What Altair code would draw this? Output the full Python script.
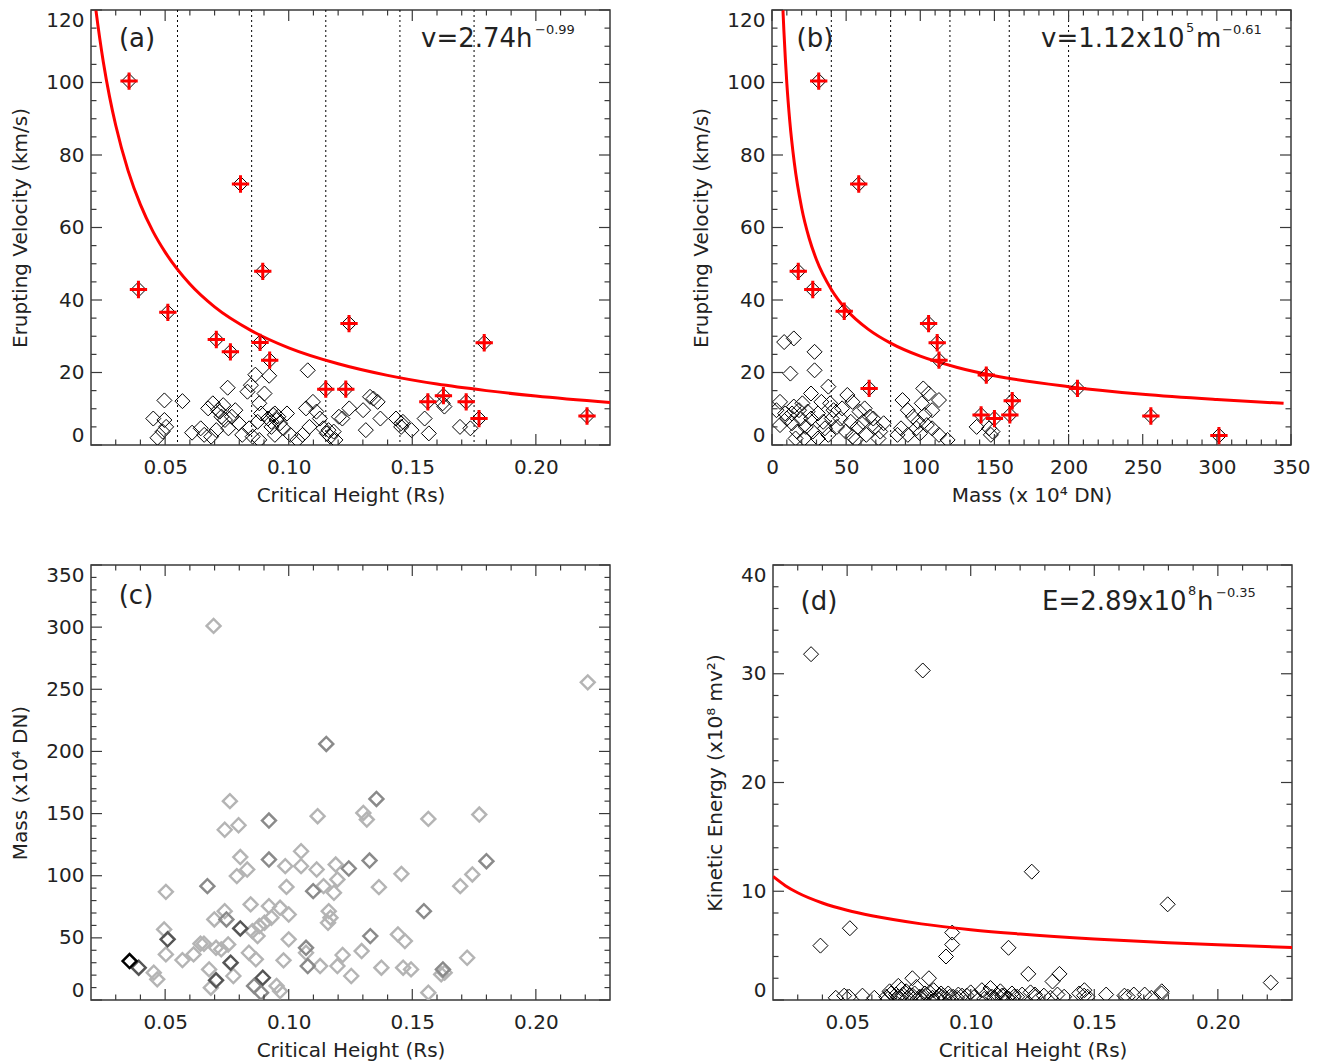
import altair as alt
import pandas as pd

FONT = "DejaVu Sans"
FRAME = "#3a3a3a"
TXT = "#222222"
RED = "#ff0000"
W, H = 519, 435

# ---------------- panel (a): critical height vs erupting velocity
A_H = [0.0452, 0.0497, 0.0570, 0.0497, 0.0504, 0.0469, 0.049, 0.0609, 0.0644, 0.0674,
       0.0693, 0.0658, 0.0686, 0.0707, 0.0721, 0.0735, 0.0753, 0.0742, 0.077, 0.0784,
       0.0798, 0.0756, 0.0812, 0.0833, 0.0847, 0.0865, 0.0921, 0.0881, 0.0902, 0.0888,
       0.0874, 0.084, 0.0854, 0.0881, 0.0916, 0.0937, 0.0951, 0.0965, 0.093, 0.0979,
       0.0993, 0.0944, 0.1007, 0.1035, 0.1056, 0.1077, 0.107, 0.1098, 0.1112, 0.1126,
       0.1084, 0.114, 0.1154, 0.1168, 0.1189, 0.1182, 0.1203, 0.1217, 0.1245, 0.1301,
       0.1329, 0.1343, 0.136, 0.1371, 0.1312, 0.1434, 0.1462, 0.1455, 0.1497, 0.155,
       0.1567, 0.1623, 0.1693, 0.1735, 0.0714, 0.0728, 0.093, 0.0958, 0.0944, 0.1161,
       0.1455, 0.163]
A_V = [7.3, 12.3, 12.1, 6.9, 5.0, 2.0, 3.7, 3.4, 4.6, 10.1,
       11.5, 2.8, 2.3, 4.1, 9.2, 11.0, 15.8, 6.9, 7.8, 9.6,
       6.0, 4.6, 2.8, 14.7, 16.5, 19.4, 19.1, 11.5, 14.2, 8.7,
       6.4, 4.6, 2.3, 1.4, 7.3, 8.3, 6.9, 6.0, 5.0, 4.6,
       8.7, 2.8, 2.8, 1.4, 2.8, 20.6, 10.1, 11.9, 9.2, 7.3,
       5.0, 4.6, 3.2, 2.3, 1.4, 3.7, 7.8, 7.3, 10.1, 9.6,
       13.3, 12.8, 11.9, 7.3, 4.1, 7.3, 6.4, 5.0, 4.1, 7.3,
       3.2, 11.5, 5.0, 4.6, 9.6, 7.8, 6.4, 7.8, 8.7, 4.1,
       6.0, 10.6]
A_RED_H = [0.0354, 0.0392, 0.0511, 0.0805, 0.0707, 0.0764, 0.0895, 0.0884, 0.0923,
           0.1244, 0.115, 0.1231, 0.1563, 0.1626, 0.1718, 0.177, 0.1791, 0.2207]
A_RED_V = [100.4, 42.9, 36.6, 72.0, 29.1, 25.7, 47.9, 28.3, 23.4,
           33.5, 15.4, 15.4, 11.9, 13.6, 11.9, 7.3, 28.2, 8.0]
A_FIT_H = [0.0215, 0.022, 0.025, 0.0275, 0.03, 0.035, 0.04, 0.045, 0.05, 0.06, 0.07,
           0.085, 0.10, 0.12, 0.14, 0.16, 0.18, 0.20, 0.23]
A_FIT_V = [122.6, 119.9, 105.6, 96.1, 88.2, 75.7, 66.3, 59.0, 53.2, 44.4, 38.1,
           31.5, 26.8, 22.4, 19.2, 16.8, 15.0, 13.5, 11.7]
A_GUIDES = [0.055, 0.085, 0.115, 0.145, 0.175]

# ---------------- panel (b): mass vs erupting velocity
B_M = [8.2, 14.7, 28.7, 12.4, 28.7, 5.4, 38, 26.3, 20.5, 14.7, 10, 13.5, 17, 22.8, 26.3,
       31, 34.5, 39.2, 41.5, 46.2, 50.8, 54.3, 59, 61.3, 66, 69.5, 73, 75.3, 49.7, 54.3,
       38, 31, 21.7, 15.9, 5.4, 8.9, 24, 33.3, 43.8, 63.6, 56.6,
       88, 102, 105.6, 112.6, 91.6, 95, 98.6, 103, 104.4, 108, 87, 91.6, 112.6, 118.4,
       84.6, 99.8,
       138, 146.4, 147.6, 148.7,
       19.3, 35.7, 47.3, 53.1, 62.5, 68.3, 57.8, 40.3, 27.5, 18.2, 3, 13.5, 71.8, 97.4,
       101, 108]
B_V = [28.4, 29.4, 25.7, 19.7, 20.6, 11.9, 16.1, 14.2, 11.5, 10.6, 7.3, 6.0, 3.7, 5.0, 7.3,
       8.7, 6.4, 11.5, 9.6, 7.3, 13.8, 11.9, 9.2, 6.4, 7.8, 5.0, 3.7, 6.0, 3.7, 2.3,
       2.8, 1.8, 1.8, 1.8, 5.5, 8.7, 9.2, 11.9, 5.0, 2.8, 1.4,
       12.4, 15.6, 14.2, 12.4, 9.6, 7.8, 6.4, 8.3, 5.5, 4.6, 4.6, 2.8, 2.8, 1.4,
       2.8, 3.2,
       5.0, 4.6, 2.8, 3.7,
       7.3, 4.6, 10.1, 6.4, 10.1, 7.3, 5.0, 7.3, 3.7, 9.6, 9.6, 8.7, 1.8, 4.6,
       11.5, 9.6]
B_RED_M = [31.5, 58.5, 17.7, 27.5, 48.7, 105.6, 111.4, 112.6, 144.5, 65.5, 206, 162,
           141, 150, 160.4, 255.5, 301.4]
B_RED_V = [100.4, 72, 47.9, 42.9, 36.9, 33.5, 28.2, 23.4, 19.3, 15.6, 15.6, 12.2,
           8.3, 7.3, 8.3, 8.0, 2.6]
B_FIT_M = [7.0, 7.5, 8, 9, 10, 12, 15, 20, 25, 30, 40, 50, 65, 80, 100, 125, 150, 200,
           250, 300, 345]
B_FIT_V = [124.1, 119.0, 114.4, 106.5, 99.8, 89.3, 78.0, 65.4, 57.1, 51.1, 42.9, 37.4,
           31.9, 28.1, 24.5, 21.4, 19.1, 16.1, 14.0, 12.55, 11.5]
B_GUIDES = [40, 80, 120, 160, 200]

# ---------------- panel (c): critical height vs mass (grey level per event)
C_H = [0.0696, 0.221, 0.1152, 0.0762, 0.1355, 0.1117, 0.092, 0.0741, 0.0797, 0.1302,
       0.1316, 0.1565, 0.1771, 0.0804, 0.105, 0.092, 0.0986, 0.0832, 0.079, 0.105,
       0.1113, 0.119, 0.1243, 0.1327, 0.1456, 0.18, 0.1743, 0.1694, 0.0671, 0.0503,
       0.0991, 0.1099, 0.1141, 0.1183, 0.1365, 0.1197, 0.0846, 0.0699, 0.0741, 0.0748,
       0.092, 0.0965, 0.1, 0.0881, 0.0902, 0.093, 0.1162, 0.1169, 0.1159, 0.1547,
       0.0804, 0.0496, 0.051, 0.0643, 0.0657, 0.0706, 0.0727, 0.0755, 0.0853, 0.0874,
       0.1, 0.107, 0.133, 0.1442, 0.147, 0.0356, 0.0393, 0.0454, 0.0468, 0.0503,
       0.057, 0.0615, 0.0678, 0.0685, 0.0706, 0.0765, 0.0776, 0.0839, 0.0867, 0.0895,
       0.086, 0.0888, 0.0951, 0.0965, 0.0979, 0.107, 0.1077, 0.1127, 0.1197, 0.1218,
       0.1253, 0.1295, 0.1375, 0.1463, 0.1495, 0.1565, 0.1624, 0.1631, 0.1617, 0.1722]
C_M = [301, 255.6, 206, 160, 161.8, 147.9, 144.4, 137, 140.6, 150.5,
       145.2, 145.7, 149.2, 115, 119.7, 113, 107.7, 105, 99.7, 107.7,
       105, 109, 105.8, 112.2, 101.5, 111.7, 101, 91.6, 91.6, 87,
       91, 87.6, 91.6, 86.3, 90.8, 97, 76.9, 64.8, 71.5, 64.8,
       75.5, 74.2, 68.8, 59.5, 62.1, 66.2, 71.5, 66.2, 62.1, 71.5,
       57.6, 56.8, 48.8, 45.3, 45.3, 42, 40.7, 44.7, 55.4, 51.4,
       48.8, 42, 51.4, 52.8, 47.4, 31.3, 26, 22, 16.6, 36.7,
       32.1, 36.7, 24.6, 9.9, 15.8, 30, 19.3, 38, 32.7, 17.9,
       11.3, 5.9, 11.3, 7.2, 31.9, 38, 27.3, 27.3, 27.3, 36.2,
       19.3, 39.4, 26, 26, 24.6, 5.9, 24.6, 22, 20.6, 34]
C_SHADE = ["L", "L", "M", "L", "M", "L", "M", "L", "L", "L",
           "L", "L", "L", "L", "L", "M", "L", "L", "L", "L",
           "L", "L", "M", "M", "L", "M", "L", "L", "M", "L",
           "L", "M", "L", "L", "L", "L", "L", "L", "L", "M",
           "L", "L", "L", "L", "L", "L", "L", "L", "L", "M",
           "D", "L", "D", "L", "L", "L", "L", "L", "L", "L",
           "L", "M", "M", "L", "L", "K", "D", "L", "L", "L",
           "L", "L", "L", "L", "D", "D", "L", "L", "L", "D",
           "M", "M", "L", "L", "L", "L", "M", "L", "L", "L",
           "L", "L", "L", "L", "L", "L", "M", "L", "L", "L"]
SHADE_KEYS = ["L", "M", "D", "K"]
SHADE_COLORS = ["#b4b4b4", "#8a8a8a", "#555555", "#000000"]
SHADE_WIDTHS = [2.4, 2.5, 2.8, 3.2]

# ---------------- panel (d): critical height vs kinetic energy
D_H = [0.0354, 0.0806, 0.1247, 0.1797, 0.0511, 0.0392, 0.0925, 0.0925, 0.090, 0.1153,
       0.1233, 0.1359, 0.1331, 0.2214, 0.0764, 0.0831, 0.0707, 0.0672, 0.1773,
       0.072, 0.078, 0.085, 0.088, 0.1, 0.108, 0.112, 0.126, 0.146, 0.166,
       0.0454, 0.0488, 0.0508, 0.0562, 0.061, 0.0658, 0.0678, 0.0698, 0.0719, 0.0739,
       0.0753, 0.0773, 0.0794, 0.0821, 0.0834, 0.0862, 0.0889, 0.0909, 0.0929, 0.095,
       0.0984, 0.1045, 0.1065, 0.1086, 0.1106, 0.1127, 0.1147, 0.1167, 0.1188, 0.1208,
       0.1242, 0.1262, 0.1296, 0.1323, 0.1351, 0.1378, 0.1439, 0.1459, 0.1473, 0.1548,
       0.1622, 0.1636, 0.1704, 0.1731, 0.1772,
       0.0665, 0.0705, 0.0725, 0.0745, 0.0765, 0.0785, 0.0805, 0.0815, 0.0845, 0.0875,
       0.0895, 0.0915, 0.0945, 0.0965, 0.1015, 0.1055, 0.1095, 0.1135, 0.1155, 0.1175]
D_E = [31.8, 30.3, 11.8, 8.8, 6.6, 5.0, 6.2, 5.1, 4.0, 4.8,
       2.4, 2.4, 1.7, 1.6, 2.0, 2.0, 1.3, 0.8, 0.8,
       1.0, 1.2, 0.9, 0.6, 0.7, 1.1, 0.8, 0.5, 0.9, 0.5,
       0.2, 0.4, 0.3, 0.4, 0.2, 0.3, 0.6, 0.5, 0.3, 0.8,
       0.4, 0.6, 0.3, 0.5, 0.7, 0.2, 0.4, 0.6, 0.3, 0.5,
       0.4, 0.9, 0.6, 0.3, 0.5, 0.4, 0.2, 0.6, 0.3, 0.5,
       0.7, 0.3, 0.4, 0.2, 0.5, 0.3, 0.6, 0.4, 0.3, 0.5,
       0.4, 0.3, 0.5, 0.2, 0.6,
       0.1, 0.3, 0.5, 0.2, 0.4, 0.1, 0.3, 0.6, 0.2, 0.4,
       0.1, 0.3, 0.2, 0.4, 0.3, 0.1, 0.2, 0.4, 0.1, 0.3]
D_FIT_H = [0.02, 0.025, 0.03, 0.04, 0.05, 0.06, 0.08, 0.10, 0.12, 0.15, 0.18, 0.20, 0.23]
D_FIT_E = [11.36, 10.51, 9.86, 8.92, 8.25, 7.74, 7.00, 6.47, 6.07, 5.61, 5.27, 5.08, 4.83]

# ---------------- axis ticks / labels
H_MAJOR = [0.05, 0.10, 0.15, 0.20]
H_MINOR = [0.03, 0.04, 0.06, 0.07, 0.08, 0.09, 0.11, 0.12, 0.13, 0.14, 0.16, 0.17,
           0.18, 0.19, 0.21, 0.22]
V_MAJOR = [0, 20, 40, 60, 80, 100, 120]
V_MINOR = [5, 10, 15, 25, 30, 35, 45, 50, 55, 65, 70, 75, 85, 90, 95, 105, 110, 115]
M_MAJOR = [0, 50, 100, 150, 200, 250, 300, 350]
M_MINOR = [10, 20, 30, 40, 60, 70, 80, 90, 110, 120, 130, 140, 160, 170, 180, 190,
           210, 220, 230, 240, 260, 270, 280, 290, 310, 320, 330, 340]
E_MAJOR = [0, 10, 20, 30, 40]
E_MINOR = [2, 4, 6, 8, 12, 14, 16, 18, 22, 24, 26, 28, 32, 34, 36, 38]

DIAMOND = 225
PLUS = "M-1,0L1,0M0,-1L0,1"


def xaxis(values, fmt, title):
    return alt.Axis(values=values, format=fmt, title=title, ticks=False, domain=False,
                    grid=False, labelPadding=12, titlePadding=8, labelFlush=False)


def yaxis(values, title):
    return alt.Axis(values=values, format="d", title=title, ticks=False, domain=False,
                    grid=False, labelPadding=7, titlePadding=15, labelFlush=True)


class Panel:
    def __init__(self, xdom, ydom, xax, yax):
        self.xs = alt.Scale(domain=xdom, nice=False, zero=False)
        self.ys = alt.Scale(domain=ydom, nice=False, zero=False)
        self.xax = xax
        self.yax = yax

    def X(self, f):
        return alt.X(f, type="quantitative", scale=self.xs, axis=self.xax)

    def Y(self, f):
        return alt.Y(f, type="quantitative", scale=self.ys, axis=self.yax)

    def ticks(self, xmaj, xmin, ymaj, ymin):
        layers = []
        for vals, L in ((xmaj, 11), (xmin, 5.5)):
            base = alt.Chart(pd.DataFrame({"t": vals})).mark_rule(color=FRAME, strokeWidth=1.2)
            layers.append(base.encode(x=self.X("t"), y=alt.value(H), y2=alt.value(H - L)))
            layers.append(base.encode(x=self.X("t"), y=alt.value(0), y2=alt.value(L)))
        for vals, L in ((ymaj, 11), (ymin, 5.5)):
            base = alt.Chart(pd.DataFrame({"t": vals})).mark_rule(color=FRAME, strokeWidth=1.2)
            layers.append(base.encode(y=self.Y("t"), x=alt.value(0), x2=alt.value(L)))
            layers.append(base.encode(y=self.Y("t"), x=alt.value(W), x2=alt.value(W - L)))
        return layers

    def guides(self, vals):
        return alt.Chart(pd.DataFrame({"g": vals})).mark_rule(
            color="#000000", strokeWidth=1, strokeDash=[2, 3]).encode(x=self.X("g"))

    def diamonds(self, df, xf, yf):
        return alt.Chart(df).mark_point(shape="diamond", filled=False, color="#000000",
                                        strokeWidth=1, size=DIAMOND, opacity=1,
                                        clip=True).encode(x=self.X(xf), y=self.Y(yf))

    def plus(self, df, xf, yf):
        return alt.Chart(df).mark_point(shape=PLUS, filled=False, color=RED, strokeWidth=3,
                                        size=300, opacity=1, clip=True).encode(
            x=self.X(xf), y=self.Y(yf))

    def fit(self, df, xf, yf):
        return alt.Chart(df).mark_line(color=RED, strokeWidth=3, clip=True,
                                       interpolate="monotone").encode(
            x=self.X(xf), y=self.Y(yf))


def text_layers(items):
    out = []
    for txt, x, y, size, align, baseline in items:
        out.append(alt.Chart(pd.DataFrame({"s": [txt]})).mark_text(
            font=FONT, fontSize=size, color=TXT, align=align, baseline=baseline
        ).encode(text="s:N", x=alt.value(x), y=alt.value(y)))
    return out


# ---- panel (a)
pa = Panel([0.02, 0.23], [0, 120], xaxis(H_MAJOR, ".2f", "Critical Height (Rs)"),
           yaxis(V_MAJOR, "Erupting Velocity (km/s)"))
dfa = pd.DataFrame({"h": A_H, "v": A_V})
dfa_r = pd.DataFrame({"h": A_RED_H, "v": A_RED_V})
dfa_f = pd.DataFrame({"h": A_FIT_H, "v": A_FIT_V})
panel_a = alt.layer(
    pa.diamonds(dfa, "h", "v"),
    pa.guides(A_GUIDES),
    pa.fit(dfa_f, "h", "v"),
    pa.diamonds(dfa_r, "h", "v"),
    pa.plus(dfa_r, "h", "v"),
    *text_layers([("(a)", 46, 29, 26, "center", "middle"),
                  ("v=2.74h", 330, 37, 26, "left", "alphabetic"),
                  ("\u22120.99", 444, 24, 13, "left", "alphabetic")]),
    *pa.ticks(H_MAJOR, H_MINOR, V_MAJOR, V_MINOR),
).properties(width=W, height=H)

# ---- panel (b)
pb = Panel([0, 350], [0, 120], xaxis(M_MAJOR, "d", "Mass (x 10\u2074 DN)"),
           yaxis(V_MAJOR, "Erupting Velocity (km/s)"))
dfb = pd.DataFrame({"m": B_M, "v": B_V})
dfb_r = pd.DataFrame({"m": B_RED_M, "v": B_RED_V})
dfb_f = pd.DataFrame({"m": B_FIT_M, "v": B_FIT_V})
panel_b = alt.layer(
    pb.diamonds(dfb, "m", "v"),
    pb.guides(B_GUIDES),
    pb.fit(dfb_f, "m", "v"),
    pb.diamonds(dfb_r, "m", "v"),
    pb.plus(dfb_r, "m", "v"),
    *text_layers([("(b)", 43, 29, 26, "center", "middle"),
                  ("v=1.12x10", 269, 37, 26, "left", "alphabetic"),
                  ("5", 414, 22, 13, "left", "alphabetic"),
                  ("m", 424, 37, 26, "left", "alphabetic"),
                  ("\u22120.61", 450, 24, 13, "left", "alphabetic")]),
    *pb.ticks(M_MAJOR, M_MINOR, V_MAJOR, V_MINOR),
).properties(width=W, height=H)

# ---- panel (c)
pc = Panel([0.02, 0.23], [0, 350], xaxis(H_MAJOR, ".2f", "Critical Height (Rs)"),
           yaxis(M_MAJOR, "Mass (x10\u2074 DN)"))
dfc = pd.DataFrame({"h": C_H, "m": C_M, "s": C_SHADE})
dfc["rank"] = dfc["s"].map({k: i for i, k in enumerate(SHADE_KEYS)})
dfc = dfc.sort_values("rank", kind="stable").drop(columns="rank")
panel_c = alt.layer(
    alt.Chart(dfc).mark_point(shape="diamond", filled=False, size=196, opacity=1,
                              clip=True).encode(
        x=pc.X("h"), y=pc.Y("m"),
        color=alt.Color("s:N", scale=alt.Scale(domain=SHADE_KEYS, range=SHADE_COLORS),
                        legend=None),
        strokeWidth=alt.StrokeWidth("s:N", scale=alt.Scale(domain=SHADE_KEYS,
                                                           range=SHADE_WIDTHS),
                                    legend=None)),
    *text_layers([("(c)", 45, 31, 26, "center", "middle")]),
    *pc.ticks(H_MAJOR, H_MINOR, M_MAJOR, M_MINOR),
).properties(width=W, height=H)

# ---- panel (d)
pdd = Panel([0.02, 0.23], [0, 40], xaxis(H_MAJOR, ".2f", "Critical Height (Rs)"),
            yaxis(E_MAJOR, "Kinetic Energy (x10\u2078 mv\u00b2)"))
dfd = pd.DataFrame({"h": D_H, "e": D_E})
dfd_f = pd.DataFrame({"h": D_FIT_H, "e": D_FIT_E})
panel_d = alt.layer(
    pdd.diamonds(dfd, "h", "e"),
    pdd.fit(dfd_f, "h", "e"),
    *text_layers([("(d)", 46, 37, 26, "center", "middle"),
                  ("E=2.89x10", 269, 45, 26, "left", "alphabetic"),
                  ("8", 415, 30, 13, "left", "alphabetic"),
                  ("h", 424, 45, 26, "left", "alphabetic"),
                  ("\u22120.35", 443, 32, 13, "left", "alphabetic")]),
    *pdd.ticks(H_MAJOR, H_MINOR, E_MAJOR, E_MINOR),
).properties(width=W, height=H)

top = alt.hconcat(panel_a, panel_b, spacing=79)
bottom = alt.hconcat(panel_c, panel_d, spacing=92)
chart = alt.vconcat(top, bottom, spacing=57).properties(
    padding={"left": 2, "top": 0, "right": 5, "bottom": 5},
    background="white",
).configure_axis(
    labelFont=FONT, titleFont=FONT, labelFontSize=20, titleFontSize=20,
    titleFontWeight="normal", labelColor=TXT, titleColor=TXT,
).configure_view(stroke=FRAME, strokeWidth=1.5)

chart.save("out.html", embed_options={"renderer": "svg", "actions": False})
